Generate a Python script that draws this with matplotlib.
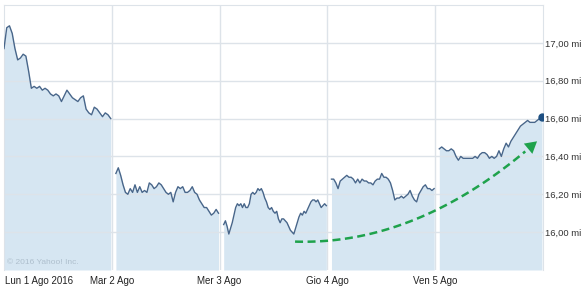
import numpy as np
import matplotlib
matplotlib.use("Agg")
import matplotlib.pyplot as plt

# Index values (thousands), one list per trading day
day_labels = ["Lun 1 Ago 2016", "Mar 2 Ago", "Mer 3 Ago", "Gio 4 Ago", "Ven 5 Ago"]

day1 = [16.97, 17.08, 17.09, 17.05, 16.97, 16.91, 16.92, 16.94, 16.93, 16.85,
        16.76, 16.77, 16.76, 16.77, 16.75, 16.76, 16.75, 16.73, 16.72, 16.73,
        16.72, 16.69, 16.72, 16.75, 16.73, 16.71, 16.70, 16.69, 16.71, 16.72,
        16.65, 16.63, 16.62, 16.66, 16.65, 16.63, 16.61, 16.63, 16.62, 16.60]
day2 = [16.31, 16.34, 16.30, 16.25, 16.21, 16.20, 16.23, 16.21, 16.25, 16.21,
        16.24, 16.21, 16.22, 16.21, 16.26, 16.25, 16.23, 16.24, 16.26, 16.25,
        16.23, 16.21, 16.20, 16.21, 16.16, 16.21, 16.24, 16.23, 16.24, 16.21,
        16.21, 16.22, 16.24, 16.21, 16.20, 16.17, 16.15, 16.13, 16.13, 16.11,
        16.09, 16.10, 16.12, 16.10]
day3 = [16.04, 16.06, 16.03, 15.99, 16.02, 16.05, 16.09, 16.13, 16.15, 16.14,
        16.15, 16.13, 16.15, 16.13, 16.13, 16.15, 16.20, 16.21, 16.20, 16.21,
        16.23, 16.22, 16.23, 16.21, 16.18, 16.16, 16.13, 16.12, 16.13, 16.11,
        16.10, 16.11, 16.07, 16.05, 16.07, 16.07, 16.06, 16.05, 16.03, 16.01,
        16.00, 15.99, 16.02, 16.05, 16.08, 16.10, 16.09, 16.11, 16.10, 16.12,
        16.14, 16.16, 16.17, 16.17, 16.16, 16.17, 16.15, 16.13, 16.14, 16.15,
        16.14]
day4 = [16.28, 16.28, 16.26, 16.23, 16.27, 16.28, 16.29, 16.30, 16.29, 16.29,
        16.28, 16.26, 16.28, 16.26, 16.28, 16.27, 16.27, 16.26, 16.26, 16.25,
        16.27, 16.28, 16.28, 16.31, 16.29, 16.29, 16.28, 16.26, 16.22, 16.17,
        16.18, 16.18, 16.19, 16.18, 16.19, 16.20, 16.22, 16.19, 16.17, 16.16,
        16.20, 16.22, 16.24, 16.25, 16.23, 16.23, 16.22, 16.23]
day5 = [16.44, 16.45, 16.44, 16.43, 16.43, 16.44, 16.43, 16.40, 16.38, 16.40,
        16.39, 16.39, 16.39, 16.39, 16.39, 16.40, 16.39, 16.41, 16.42, 16.42,
        16.41, 16.39, 16.40, 16.39, 16.40, 16.43, 16.40, 16.44, 16.47, 16.45,
        16.48, 16.50, 16.52, 16.54, 16.56, 16.57, 16.58, 16.59, 16.58, 16.58,
        16.58, 16.59, 16.60, 16.61]
days = [day1, day2, day3, day4, day5]

y_ticks = [16.00, 16.20, 16.40, 16.60, 16.80, 17.00]
y_tick_labels = ["16,00 mi", "16,20 mi", "16,40 mi", "16,60 mi", "16,80 mi", "17,00 mi"]

# trend arrow (annotation): start, bend, tip
arrow_start = (2.70, 15.95)
arrow_bend = (3.85, 15.93)
arrow_tip = (4.945, 16.48)

LINE = "#48668a"
FILL = "#d6e6f2"
GRID = "#dde3e9"
GREEN = "#1fa24c"
FONT = ["Liberation Sans", "DejaVu Sans"]

fig = plt.figure(figsize=(5.82, 2.87), dpi=100)
ax = fig.add_axes([4 / 582, 17 / 287, 539 / 582, 265 / 287])
ymin, ymax = 15.80, 17.20

for i, vals in enumerate(days):
    start = i if i == 0 else i + 0.038
    x = np.linspace(start, i + 0.99, len(vals))
    ax.fill_between(x, vals, ymin, color=FILL, lw=0, zorder=1)
    ax.plot(x, vals, color=LINE, lw=1.0, zorder=4)
    if i == len(days) - 1:
        ax.plot(x[-1], vals[-1], "o", color="#1d4f82", ms=5, zorder=5)

for yv in y_ticks:
    ax.axhline(yv, color=GRID, lw=1, zorder=2)
for xv in range(1, len(days)):
    ax.axvline(xv, color=GRID, lw=1, zorder=0.5)

ax.set_xlim(0, len(days))
ax.set_ylim(ymin, ymax)
for side in ["top", "left", "right"]:
    ax.spines[side].set_color(GRID)
ax.spines["bottom"].set_visible(False)

ax.yaxis.tick_right()
ax.set_yticks(y_ticks)
ax.set_yticklabels(y_tick_labels, family=FONT, fontsize=6.8, color="#333333")
ax.tick_params(axis="y", length=0, pad=1.5)
ax.set_xticks([])

# day labels under the chart
for i, lab in enumerate(day_labels):
    ax.text(i + (0.005 if i == 0 else 0), -0.04, lab, transform=ax.get_xaxis_transform(),
            ha="left" if i == 0 else "center", va="center",
            family=FONT, fontsize=7, color="#222222")

ax.text(0.03, 15.83, "© 2016 Yahoo! Inc.", family=FONT, fontsize=6,
        color="#aebfcd", zorder=3)

# dashed trend curve (quadratic bezier) with arrow head
t = np.linspace(0, 0.95, 80)
p0, p1, p2 = np.array(arrow_start), np.array(arrow_bend), np.array(arrow_tip)
curve = ((1 - t)[:, None] ** 2 * p0 + (2 * t * (1 - t))[:, None] * p1
         + (t ** 2)[:, None] * p2)
ax.plot(curve[:, 0], curve[:, 1], color=GREEN, lw=1.8, dashes=(3.2, 1.8), zorder=6)
ax.annotate("", xy=arrow_tip, xytext=tuple(curve[-6]),
            arrowprops=dict(arrowstyle="-|>,head_length=0.7,head_width=0.4",
                            color=GREEN, lw=0, shrinkA=0, shrinkB=0,
                            mutation_scale=12), zorder=6)

fig.savefig("out.png", dpi=100)
